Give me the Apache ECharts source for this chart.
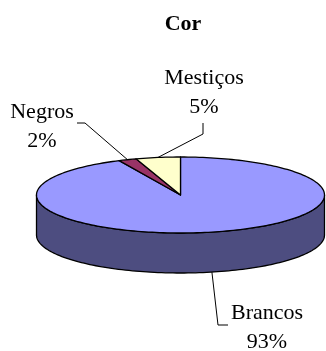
<!DOCTYPE html>
<html>
<head>
<meta charset="utf-8">
<style>html,body{margin:0;padding:0;background:#fff}#c{width:326px;height:351px}</style>
<script src="https://cdn.jsdelivr.net/npm/echarts@6/dist/echarts.min.js"></script>
</head>
<body>
<div id="c"></div>
<script>
const categories = ['Brancos', 'Negros', 'Mestiços'];
const percentages = [93, 2, 5];
const topColors = ['#9999ff', '#993366', '#ffffcc'];
const sideColors = ['#4d4d80', '#4d1a33', '#808066'];

const PIE = { cx: 180.5, cy: 195, rx: 144, ry: 38, depth: 40 };
const FONT = '"Liberation Serif", "Times New Roman", serif';
// label placement: text centre, leader elbow, leader start
const LABELS = [
  { x: 267, y: 313, dy: 29, from: [228, 325], elbow: [218, 325], onSide: true },
  { x: 42, y: 112, dy: 29, from: [77, 123], elbow: [85, 123] },
  { x: 204, y: 78, dy: 29, from: [203, 123], elbow: [203, 134] }
];

const total = percentages.reduce((a, b) => a + b, 0);
const rad = d => d * Math.PI / 180;
const rim = (deg, drop) => [
  PIE.cx + PIE.rx * Math.sin(rad(deg)),
  PIE.cy - PIE.ry * Math.cos(rad(deg)) + (drop || 0)
];
function arc(a, b, drop) {
  const pts = [], n = Math.max(2, Math.ceil(Math.abs(b - a) / 1.5));
  for (let i = 0; i <= n; i++) pts.push(rim(a + (b - a) * i / n, drop));
  return pts;
}

function renderItem(params, api) {
  const i = params.dataIndex;
  let start = 0;
  for (let k = 0; k < i; k++) start += percentages[k] / total * 360;
  const end = start + api.value(0) / total * 360;
  const mid = (start + end) / 2;
  const stroke = { stroke: '#000', lineWidth: 1.3, lineJoin: 'round' };
  const children = [];

  // visible front wall of the slice (90° to 270° clockwise from the top)
  const a = Math.max(start, 90), b = Math.min(end, 270);
  if (b > a) {
    children.push({
      type: 'polygon', z2: 1,
      shape: { points: arc(a, b, 0).concat(arc(b, a, PIE.depth)) },
      style: Object.assign({ fill: sideColors[i] }, stroke)
    });
  }
  // top face
  children.push({
    type: 'polygon', z2: 2,
    shape: { points: [[PIE.cx, PIE.cy]].concat(arc(start, end, 0)) },
    style: Object.assign({ fill: topColors[i] }, stroke)
  });
  // leader line and label
  const L = LABELS[i];
  children.push({
    type: 'polyline', z2: 3,
    shape: { points: [L.from, L.elbow, rim(mid, L.onSide ? PIE.depth : 0)] },
    style: { stroke: '#000', lineWidth: 1, fill: null }
  });
  [categories[i], percentages[i] + '%'].forEach((t, n) => {
    children.push({
      type: 'text', z2: 4,
      style: {
        text: t, x: L.x, y: L.y + n * L.dy,
        fill: '#000', font: '22px ' + FONT,
        textAlign: 'center', textVerticalAlign: 'middle'
      }
    });
  });
  return { type: 'group', children };
}

const chart = echarts.init(document.getElementById('c'), null, { renderer: 'canvas' });
chart.setOption({
  animation: false,
  backgroundColor: '#fff',
  title: {
    text: 'Cor', left: 178, top: 8, textAlign: 'center',
    textStyle: { fontFamily: FONT, fontWeight: 'bold', fontSize: 22, color: '#000' }
  },
  series: [{
    type: 'custom',
    coordinateSystem: 'none',
    renderItem,
    silent: true,
    data: percentages.map((v, i) => ({ name: categories[i], value: [v, i] }))
  }]
});
</script>
</body>
</html>
